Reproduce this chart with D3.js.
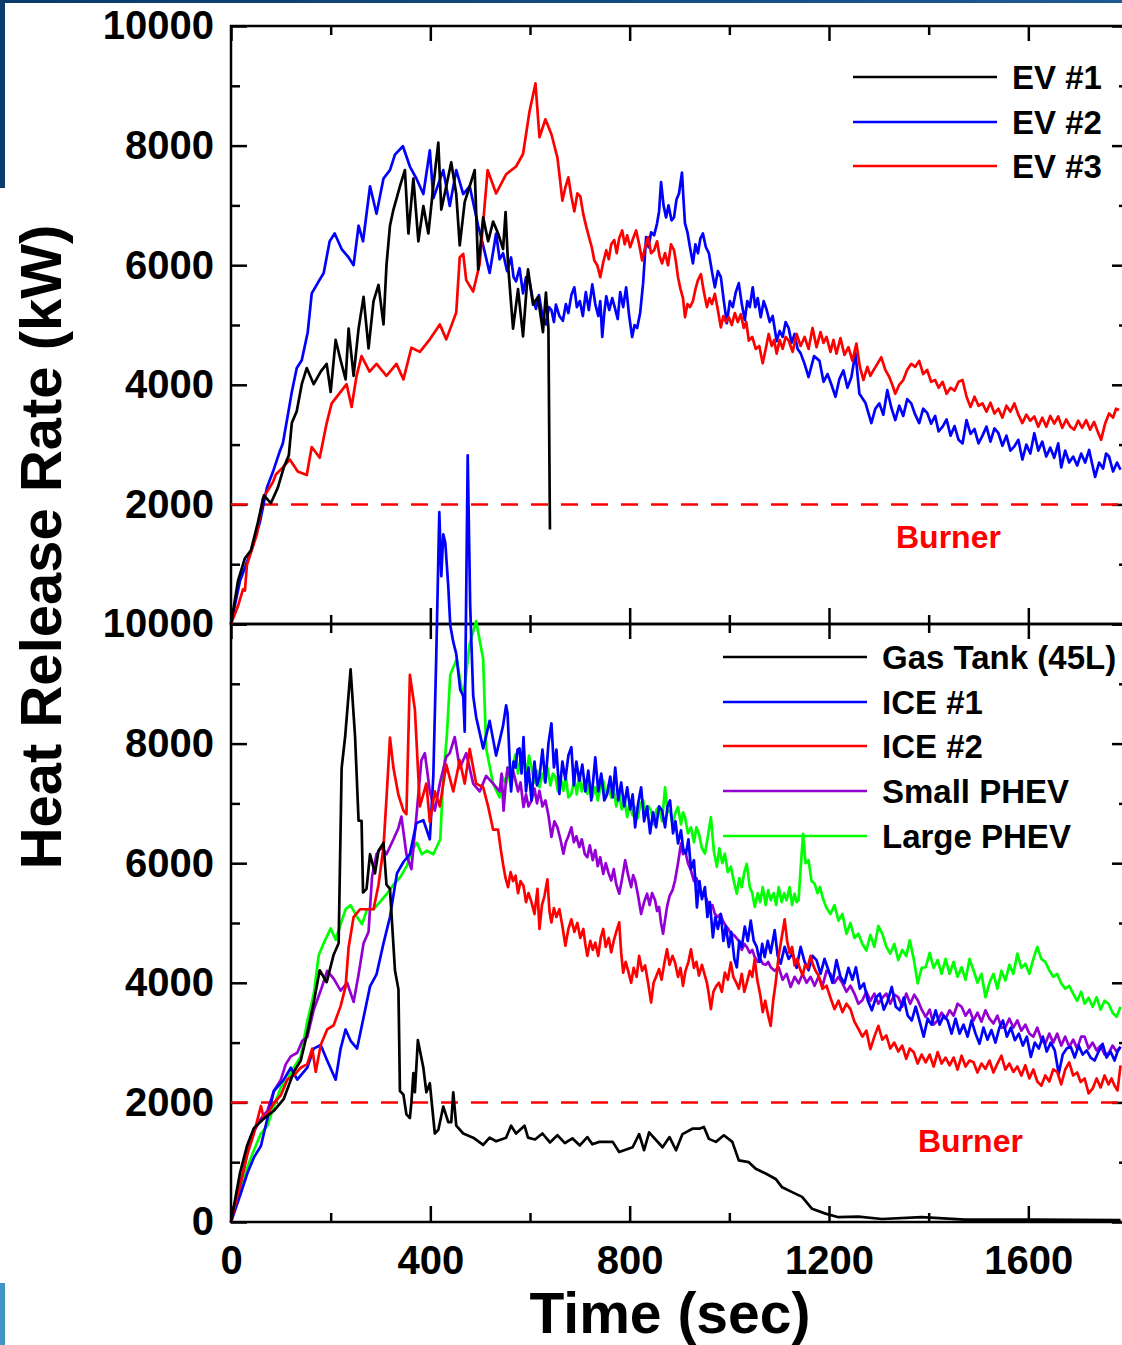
<!DOCTYPE html>
<html><head><meta charset="utf-8">
<script src="https://cdn.jsdelivr.net/npm/d3@7"></script>
<style>
body{margin:0;background:#fff;overflow:hidden}
svg{display:block}
text{font-family:"Liberation Sans",Arial,Helvetica,sans-serif;font-weight:bold}
</style></head>
<body><svg id="chart" width="1122" height="1345"></svg>
<script>
// ---------- DATA ([time s, HRR kW]) ----------
const ev1 = [[0,0],[14,720],[28,1100],[40,1230],[54,1700],[66,2150],[80,2020],[94,2280],[106,2620],[116,2820],[122,3360],[132,3560],[142,4010],[152,4280],[166,4010],[180,4220],[192,4350],[200,3880],[210,4750],[220,4410],[230,4090],[236,4940],[246,4150],[256,4940],[266,5470],[276,4610],[286,5400],[296,5670],[306,5010],[312,6000],[319,6660],[326,6930],[339,7320],[349,7590],[356,6530],[366,7450],[376,6400],[386,6990],[396,6530],[406,7320],[416,8050],[422,6930],[432,7320],[442,7720],[452,7190],[459,6330],[469,7060],[479,7320],[489,7590],[496,5930],[506,6800],[516,6400],[526,6730],[536,6530],[546,6270],[551,6890],[556,6000],[566,4940],[576,5600],[586,4810],[596,5930],[606,5340],[616,5470],[626,4880],[632,5540],[637,4940],[640,1580]];
const ev2 = [[0,0],[18,720],[38,1170],[58,1700],[72,2280],[84,2540],[98,2890],[104,3020],[114,3490],[122,3880],[132,4280],[142,4410],[154,4880],[162,5530],[176,5730],[186,5870],[198,6400],[208,6530],[222,6270],[236,6130],[246,6000],[256,6660],[265,6400],[279,7320],[292,6860],[306,7450],[319,7590],[329,7850],[345,7990],[359,7650],[372,7450],[386,7190],[399,7920],[406,7120],[426,7590],[439,6990],[452,7590],[466,7190],[479,7320],[496,6660],[506,6330],[519,5870],[532,6530],[539,6100],[546,6200],[554,5900],[562,6130],[567,5800],[572,5730],[579,5950],[586,5530],[592,5800],[599,5730],[605,5450],[612,5270],[618,5500],[625,5150],[632,5010],[638,5300],[643,5250],[648,5050],[652,5340],[659,5150],[666,5070],[672,5350],[677,5200],[683,5500],[689,5630],[694,5300],[700,5400],[706,5150],[712,5550],[718,5250],[725,5680],[731,5350],[737,5150],[741,5400],[745,4800],[749,5200],[753,5480],[759,5250],[765,5450],[770,5300],[776,5100],[781,5550],[787,5300],[793,5630],[799,5150],[805,4800],[810,5000],[815,4950],[821,5200],[827,5700],[833,6470],[838,6300],[843,6550],[849,6500],[855,6700],[859,6900],[863,7390],[868,7000],[873,6800],[878,7000],[884,6750],[889,6800],[894,7100],[899,7200],[905,7550],[908,7100],[911,6700],[916,6550],[921,6300],[927,6030],[932,6350],[937,6200],[942,6450],[947,6530],[953,6300],[959,6200],[965,5900],[971,5630],[977,5900],[983,5800],[989,5400],[995,5030],[1001,5400],[1007,5300],[1013,5550],[1019,5700],[1025,5350],[1031,5080],[1036,5400],[1041,5300],[1047,5630],[1052,5300],[1057,5450],[1063,5130],[1069,5400],[1075,5250],[1081,5050],[1087,5150],[1095,4730],[1101,4900],[1107,4800],[1113,5050],[1119,4950],[1125,4700],[1131,4850],[1137,4600],[1143,4530],[1151,4350],[1159,4130],[1170,4480],[1181,4400],[1189,4050],[1197,4180],[1205,4000],[1213,3800],[1221,4100],[1229,4240],[1237,3950],[1245,4130],[1253,4530],[1261,3850],[1273,3700],[1285,3360],[1293,3600],[1301,3690],[1309,3500],[1317,3910],[1325,3620],[1333,3410],[1341,3650],[1349,3480],[1357,3760],[1365,3690],[1373,3500],[1381,3360],[1389,3600],[1397,3530],[1405,3350],[1413,3480],[1420,3220],[1428,3300],[1436,3420],[1444,3150],[1452,3310],[1460,3080],[1468,3020],[1476,3410],[1484,3180],[1492,3260],[1500,3020],[1508,3150],[1516,3300],[1524,3050],[1532,3270],[1540,3190],[1548,2980],[1556,3150],[1564,2900],[1572,2970],[1580,3080],[1588,2750],[1596,3000],[1604,2850],[1612,3190],[1620,2900],[1628,3050],[1636,2800],[1644,2950],[1652,2780],[1660,3020],[1666,2620],[1674,2900],[1682,2700],[1690,2800],[1698,2650],[1706,2850],[1714,2700],[1722,2910],[1728,2680],[1734,2460],[1742,2700],[1750,2600],[1756,2850],[1762,2800],[1770,2550],[1778,2700],[1785,2580]];
const ev3 = [[0,0],[14,300],[24,580],[28,560],[32,990],[52,1500],[64,2100],[84,2370],[90,2500],[104,2620],[118,2750],[134,2550],[152,2490],[162,2960],[178,2780],[192,3360],[202,3690],[218,3860],[232,4010],[242,3630],[252,4150],[262,4480],[278,4220],[292,4350],[312,4150],[332,4350],[346,4090],[362,4620],[379,4550],[399,4760],[419,5010],[432,4760],[452,5210],[459,6130],[466,6190],[472,5750],[486,5560],[499,6020],[515,7590],[532,7200],[552,7520],[572,7650],[586,7860],[599,8570],[611,9040],[619,8140],[631,8440],[643,8190],[655,7800],[660,7450],[665,7080],[671,7300],[677,7470],[683,7150],[689,6900],[695,7200],[701,7150],[707,6850],[713,6640],[719,6450],[724,6300],[729,6080],[735,6000],[741,5800],[747,6050],[753,6250],[758,6100],[763,6350],[769,6420],[774,6200],[779,6450],[785,6580],[790,6350],[795,6500],[801,6300],[807,6450],[813,6580],[819,6350],[825,6080],[831,6300],[837,6470],[843,6200],[849,6250],[855,6400],[860,6150],[865,6030],[871,6200],[877,6000],[883,6350],[889,6250],[893,6050],[897,5800],[902,5600],[907,5450],[911,5130],[916,5350],[921,5300],[927,5400],[932,5600],[937,5750],[943,5850],[949,5550],[955,5300],[960,5450],[965,5350],[971,5520],[977,5250],[983,4960],[988,5150],[993,5050],[999,5130],[1005,5000],[1011,5200],[1017,5050],[1023,5180],[1029,4950],[1034,5050],[1039,4740],[1046,4800],[1053,4600],[1060,4650],[1067,4360],[1073,4600],[1079,4850],[1085,4650],[1090,4750],[1095,4520],[1101,4750],[1107,4600],[1113,4800],[1119,4740],[1127,4550],[1135,4850],[1143,4650],[1151,4800],[1159,4600],[1167,4950],[1175,4630],[1183,4880],[1189,4700],[1195,4800],[1203,4550],[1209,4750],[1215,4520],[1223,4780],[1231,4500],[1239,4630],[1247,4400],[1255,4690],[1262,4300],[1269,4080],[1277,4300],[1283,4150],[1289,4240],[1297,4350],[1305,4460],[1313,4250],[1321,4130],[1327,4000],[1333,3850],[1341,4000],[1349,4080],[1357,4250],[1365,4350],[1373,4300],[1381,4400],[1389,4180],[1397,4250],[1405,4050],[1413,4080],[1420,3950],[1428,4050],[1436,3850],[1444,3950],[1452,3900],[1460,4050],[1468,4080],[1476,3800],[1484,3630],[1492,3800],[1500,3650],[1508,3690],[1516,3550],[1524,3700],[1532,3520],[1540,3600],[1548,3450],[1556,3650],[1564,3550],[1572,3690],[1580,3500],[1588,3360],[1596,3500],[1604,3400],[1612,3470],[1620,3300],[1628,3450],[1636,3300],[1644,3480],[1652,3350],[1660,3470],[1668,3280],[1676,3420],[1684,3300],[1692,3250],[1700,3400],[1708,3280],[1716,3410],[1724,3250],[1732,3380],[1740,3200],[1746,3080],[1754,3350],[1762,3520],[1770,3450],[1776,3600],[1782,3580]];

const gasTank = [[0,0],[18,820],[32,1270],[46,1570],[66,1730],[86,1860],[106,2060],[126,2510],[140,2700],[153,3160],[166,3670],[178,4210],[192,4010],[206,4470],[216,4660],[222,7590],[229,8110],[240,9240],[249,8110],[256,6710],[262,6710],[265,5510],[272,5570],[279,6150],[289,5830],[296,6210],[306,6340],[312,5640],[319,5570],[329,4210],[336,3890],[339,2190],[346,2130],[352,1800],[359,1740],[362,2000],[366,2490],[369,2170],[375,3040],[386,2580],[392,2170],[399,2320],[409,1480],[416,1540],[426,1930],[436,1670],[442,1670],[446,2170],[452,1610],[466,1480],[486,1410],[506,1290],[519,1410],[532,1350],[552,1410],[562,1610],[572,1480],[589,1610],[596,1410],[610,1380],[625,1480],[640,1330],[655,1450],[670,1320],[685,1400],[700,1280],[715,1420],[725,1300],[739,1340],[766,1340],[779,1170],[806,1250],[819,1470],[829,1200],[839,1500],[866,1250],[880,1420],[893,1200],[906,1470],[926,1560],[940,1560],[949,1590],[959,1390],[973,1340],[989,1450],[1006,1340],[1019,1030],[1039,1000],[1053,890],[1073,810],[1093,720],[1106,580],[1126,500],[1146,420],[1166,220],[1193,140],[1219,80],[1259,90],[1306,50],[1386,80],[1473,40],[1606,40],[1785,30]];
const ice1 = [[0,0],[20,490],[33,820],[46,1080],[60,1270],[73,1730],[86,2190],[106,2380],[120,2580],[133,2380],[153,2580],[166,2900],[180,2960],[193,2700],[210,2380],[220,2900],[230,3220],[240,3030],[253,2900],[266,3420],[279,3940],[292,4140],[306,4660],[319,5100],[333,5830],[346,6020],[359,6150],[372,6670],[386,6720],[399,6400],[406,7460],[412,9500],[418,11870],[422,10800],[426,11500],[430,11360],[436,10630],[440,9980],[446,9700],[452,9500],[460,8900],[466,8800],[469,8200],[472,10500],[475,12820],[480,10300],[486,8800],[492,8440],[506,7920],[519,8380],[532,7800],[539,8050],[546,8300],[552,8640],[555,8500],[562,7200],[567,7700],[571,7600],[575,7900],[579,7920],[583,7500],[587,8110],[592,7200],[597,7600],[603,7050],[609,7700],[614,7300],[619,7440],[625,7900],[631,7350],[637,8000],[643,8340],[648,7600],[653,7900],[659,7160],[665,7700],[671,7400],[677,7800],[683,7940],[688,7300],[693,7700],[699,7380],[705,7650],[711,7200],[717,7550],[723,7050],[727,7400],[731,7770],[737,7200],[743,7500],[749,7050],[755,7160],[761,7450],[766,7100],[771,7600],[777,7050],[783,7350],[789,6950],[795,7270],[801,6900],[806,7150],[811,6600],[817,7000],[823,7270],[829,6700],[835,6950],[841,6500],[847,6850],[853,6600],[859,6950],[865,6880],[871,6600],[876,6950],[881,7050],[887,6500],[892,6700],[897,6330],[903,6550],[908,6200],[913,6160],[918,6400],[923,5900],[929,6050],[935,5260],[940,5700],[945,5400],[951,5600],[956,5100],[961,5350],[967,4760],[972,5100],[977,4900],[983,5150],[988,4700],[993,4950],[999,4600],[1004,4850],[1010,4400],[1015,4260],[1020,4700],[1025,4600],[1031,4940],[1037,4700],[1043,5040],[1049,4700],[1055,4600],[1061,4350],[1066,4650],[1071,4430],[1077,4700],[1083,4500],[1091,4880],[1097,4450],[1103,4320],[1111,4600],[1119,4400],[1127,4490],[1135,4250],[1143,4600],[1151,4350],[1159,4210],[1167,4450],[1175,4380],[1183,4150],[1191,4400],[1199,4210],[1207,4000],[1215,4380],[1223,4100],[1231,3990],[1239,4250],[1247,4050],[1254,4260],[1262,3900],[1270,3990],[1278,3700],[1286,3540],[1294,3750],[1302,3820],[1310,3550],[1318,3700],[1326,3930],[1334,3600],[1342,3540],[1350,3750],[1358,3450],[1366,3370],[1374,3600],[1382,3350],[1390,3100],[1398,3400],[1406,3300],[1414,3540],[1422,3300],[1430,3450],[1438,3370],[1446,3150],[1454,3400],[1462,3150],[1470,3300],[1478,3100],[1486,3370],[1494,3150],[1502,2980],[1510,3250],[1518,3050],[1526,3210],[1534,3000],[1542,3250],[1549,3370],[1557,3100],[1565,3250],[1573,3040],[1581,3150],[1589,2950],[1597,3100],[1605,2760],[1613,3000],[1621,2900],[1629,3100],[1637,2850],[1645,3000],[1653,2870],[1661,2480],[1669,2800],[1677,2900],[1685,2930],[1693,2750],[1701,2950],[1709,2800],[1717,2870],[1725,2750],[1733,2700],[1741,2850],[1749,2980],[1757,2750],[1765,2850],[1773,2700],[1779,2850],[1785,2930]];
const ice2 = [[0,0],[20,680],[33,1140],[46,1480],[60,1940],[66,1730],[73,1800],[86,1990],[100,2120],[113,2380],[126,2450],[140,2580],[153,2640],[163,2900],[170,2510],[180,2960],[193,3220],[206,3290],[220,3610],[230,3940],[236,4590],[246,5100],[259,5230],[272,5230],[286,5230],[296,5640],[306,6270],[312,7080],[319,8100],[326,7590],[336,7140],[346,6880],[352,6820],[359,9150],[369,8570],[379,6950],[392,7330],[399,6690],[409,7200],[419,6950],[432,7650],[446,7200],[459,7720],[469,7330],[479,7910],[492,7330],[506,7270],[516,6950],[526,6560],[536,6560],[541,6250],[546,5980],[551,5750],[556,5600],[561,5850],[566,5700],[571,5790],[576,5500],[581,5700],[587,5620],[592,5350],[597,5500],[603,5350],[609,5150],[615,5570],[619,4900],[624,5300],[629,5450],[635,5730],[639,5200],[643,5010],[648,5250],[653,5100],[659,5230],[665,4950],[671,4620],[677,4900],[683,5060],[689,4850],[695,5000],[701,4750],[707,4900],[711,4650],[715,4450],[721,4700],[726,4550],[731,4670],[737,4450],[742,4750],[747,4900],[752,4600],[758,4750],[763,4510],[768,4700],[773,4850],[779,5010],[783,4500],[787,4170],[792,4350],[797,4200],[803,4000],[808,4250],[814,4100],[819,4450],[825,4200],[831,4290],[837,4000],[843,3670],[848,4000],[853,4100],[859,4230],[864,4050],[869,4300],[875,4560],[880,4300],[886,4450],[891,4340],[897,4100],[902,4250],[907,3950],[912,4200],[918,4350],[923,4560],[929,4250],[934,4350],[939,4120],[945,4300],[950,4150],[955,4000],[959,3800],[963,3560],[968,3850],[974,3950],[979,4000],[985,3850],[991,4170],[997,4050],[1003,4340],[1008,4100],[1014,4000],[1019,3900],[1025,4150],[1030,3850],[1035,4000],[1041,4200],[1046,4100],[1051,4400],[1056,4050],[1062,3800],[1067,3510],[1072,3700],[1078,3450],[1083,3280],[1088,3700],[1093,4000],[1099,4450],[1105,4750],[1111,5060],[1116,4700],[1121,4500],[1126,4600],[1131,4290],[1136,4400],[1141,4250],[1147,4120],[1152,4300],[1157,4250],[1163,4450],[1168,4300],[1173,4200],[1179,4120],[1187,3900],[1195,3950],[1203,3750],[1211,3560],[1219,3700],[1227,3510],[1235,3650],[1243,3560],[1251,3350],[1259,3230],[1267,3100],[1275,3200],[1283,2890],[1291,3100],[1299,3280],[1307,3050],[1315,3120],[1323,2900],[1331,3000],[1339,2850],[1347,2950],[1355,2730],[1362,2900],[1370,2840],[1378,2650],[1386,2800],[1394,2670],[1402,2800],[1410,2600],[1418,2840],[1426,2650],[1434,2750],[1442,2620],[1450,2750],[1458,2550],[1466,2780],[1474,2600],[1482,2700],[1490,2670],[1498,2500],[1506,2650],[1514,2560],[1522,2700],[1530,2500],[1538,2650],[1546,2780],[1554,2550],[1562,2650],[1570,2510],[1578,2600],[1586,2450],[1594,2620],[1602,2400],[1610,2550],[1618,2350],[1626,2280],[1634,2450],[1642,2350],[1650,2550],[1658,2510],[1666,2300],[1674,2550],[1682,2670],[1690,2450],[1698,2500],[1705,2340],[1713,2400],[1721,2150],[1729,2230],[1737,2400],[1745,2250],[1753,2450],[1761,2300],[1767,2400],[1773,2280],[1779,2200],[1785,2620]];
const phevSmall = [[0,0],[20,680],[40,1420],[60,1730],[73,1860],[86,2190],[100,2380],[110,2640],[120,2770],[133,2830],[143,3030],[153,3090],[166,3550],[180,3870],[193,4200],[206,4070],[220,3870],[233,4000],[246,3680],[256,4140],[266,4660],[276,4850],[283,5770],[292,6150],[302,6270],[312,6150],[326,6400],[336,6590],[342,6780],[352,6150],[362,5900],[372,6780],[382,7720],[389,7840],[399,7200],[409,6880],[419,7330],[432,7780],[439,7840],[449,8110],[459,7590],[472,7840],[486,7330],[499,7200],[512,7460],[526,7330],[539,7200],[543,7500],[547,6880],[551,7300],[555,7600],[561,7400],[566,7550],[571,7380],[576,7200],[581,7350],[587,6940],[592,7150],[597,6950],[603,7050],[609,7250],[614,7000],[619,7210],[625,6950],[631,7050],[637,6800],[643,6440],[649,6700],[655,6600],[661,6400],[667,6160],[672,6350],[677,6450],[683,6600],[688,6350],[693,6450],[699,6270],[704,6400],[710,6150],[715,6100],[720,6300],[726,6050],[731,6220],[736,5950],[741,6100],[747,5820],[752,6000],[757,5850],[763,5710],[768,5900],[773,5650],[779,5490],[785,5750],[791,6050],[797,5800],[803,5600],[807,5800],[811,5710],[817,5450],[823,5150],[829,5350],[835,5490],[840,5300],[845,5500],[851,5380],[855,5200],[859,5270],[863,5000],[867,4820],[871,5050],[875,5270],[880,5450],[886,5550],[891,5710],[897,6000],[903,6330],[907,6150],[911,6220],[917,6000],[923,5880],[929,5700],[934,5750],[939,5600],[945,5450],[950,5500],[955,5380],[961,5250],[966,5300],[971,5150],[977,5100],[982,5150],[987,5040],[993,4950],[998,4900],[1003,4820],[1009,4800],[1014,4750],[1019,4700],[1025,4550],[1030,4650],[1035,4600],[1041,4500],[1046,4550],[1051,4430],[1057,4350],[1062,4400],[1067,4320],[1073,4300],[1078,4350],[1083,4260],[1091,4200],[1099,4260],[1107,4050],[1115,4150],[1123,3930],[1131,4100],[1139,3990],[1147,4150],[1155,4000],[1163,4100],[1171,3950],[1179,4100],[1187,3950],[1195,4200],[1203,4150],[1211,4000],[1219,4100],[1227,3990],[1235,3850],[1243,3950],[1251,3820],[1259,3650],[1267,3710],[1275,3850],[1283,3700],[1291,3820],[1299,3650],[1307,3750],[1315,3820],[1323,3650],[1331,3800],[1339,3760],[1347,3600],[1355,3820],[1363,3650],[1371,3800],[1378,3710],[1386,3550],[1394,3430],[1402,3550],[1410,3300],[1418,3370],[1426,3500],[1434,3400],[1442,3540],[1450,3450],[1458,3650],[1466,3600],[1474,3450],[1482,3550],[1490,3370],[1498,3500],[1506,3350],[1514,3540],[1522,3400],[1530,3320],[1538,3450],[1546,3250],[1554,3260],[1562,3400],[1570,3250],[1578,3370],[1586,3200],[1594,3300],[1602,3150],[1610,3100],[1618,3250],[1626,3050],[1634,2980],[1642,3150],[1650,3000],[1658,3150],[1666,2950],[1674,3100],[1682,2930],[1690,3050],[1698,2900],[1706,3100],[1713,3100],[1721,2900],[1729,3000],[1737,2870],[1745,2950],[1753,2800],[1761,2820],[1769,2950],[1777,2850],[1785,2930]];
const phevLarge = [[0,0],[20,620],[40,1080],[60,1480],[73,1610],[86,1930],[100,2250],[113,2380],[126,2580],[140,2770],[153,3350],[166,3810],[176,4460],[186,4660],[200,4910],[210,4720],[220,4980],[230,5230],[240,5300],[253,5100],[263,4980],[273,5230],[286,5230],[300,5360],[313,5490],[326,5640],[340,5770],[353,5960],[363,6210],[373,6340],[383,6150],[393,6210],[406,6150],[420,6400],[426,7460],[433,8110],[440,9150],[453,9410],[466,8760],[479,9670],[492,10050],[506,9410],[512,7920],[526,7330],[539,7100],[545,7450],[552,7330],[555,7600],[561,7300],[566,7650],[571,7820],[576,7500],[581,7750],[587,7880],[593,7450],[598,7800],[603,7600],[609,7350],[614,7550],[619,7270],[625,7500],[630,7350],[635,7600],[641,7300],[646,7500],[651,7440],[656,7200],[661,7450],[667,7210],[672,7450],[677,7100],[683,7160],[689,7400],[694,7150],[699,7490],[704,7200],[710,7400],[715,7160],[720,7350],[725,7100],[731,7270],[736,7050],[742,7300],[747,7380],[752,7100],[757,7300],[763,7100],[768,7250],[773,6950],[779,7160],[784,6900],[790,7050],[795,6770],[800,7000],[806,6800],[811,6940],[816,6750],[822,7000],[827,7050],[832,6800],[838,6950],[843,6880],[848,6650],[854,6900],[859,6940],[865,6700],[871,7270],[876,6850],[881,6880],[886,6650],[892,6850],[897,6940],[903,6650],[907,6850],[911,6770],[917,6500],[923,6600],[929,6350],[934,6600],[939,6490],[945,6250],[951,6160],[957,6450],[963,6770],[969,6200],[975,5940],[980,6250],[986,6000],[991,6160],[997,5850],[1003,5940],[1009,5700],[1015,5490],[1020,5750],[1025,5600],[1030,5850],[1035,5990],[1041,5600],[1046,5500],[1051,5270],[1057,5500],[1062,5350],[1067,5600],[1073,5300],[1078,5550],[1083,5380],[1089,5500],[1094,5300],[1099,5600],[1105,5350],[1110,5500],[1115,5380],[1121,5600],[1126,5300],[1131,5490],[1135,5350],[1139,5380],[1143,5900],[1148,6490],[1153,6000],[1159,6050],[1165,5700],[1171,5660],[1177,5500],[1182,5600],[1187,5430],[1195,5250],[1203,5150],[1211,5300],[1219,5040],[1227,5150],[1235,4820],[1243,5000],[1251,4750],[1259,4820],[1267,4650],[1275,4540],[1283,4800],[1291,4600],[1299,4950],[1307,4820],[1315,4600],[1323,4490],[1331,4650],[1339,4380],[1347,4550],[1355,4450],[1362,4710],[1370,4400],[1378,3990],[1386,4250],[1394,4260],[1402,4500],[1410,4250],[1418,4380],[1426,4150],[1434,4400],[1442,4150],[1450,4350],[1458,4100],[1466,4260],[1474,4050],[1482,4400],[1490,4210],[1498,4000],[1506,4150],[1514,3760],[1522,4000],[1530,4150],[1538,3900],[1546,4200],[1554,4040],[1562,4300],[1570,4150],[1578,4490],[1586,4250],[1594,4320],[1602,4150],[1610,4400],[1618,4600],[1626,4400],[1634,4350],[1642,4210],[1650,4100],[1658,4150],[1666,3990],[1674,3900],[1682,3950],[1690,3820],[1698,3700],[1706,3850],[1713,3650],[1721,3750],[1729,3600],[1737,3760],[1745,3550],[1753,3700],[1761,3650],[1769,3500],[1777,3430],[1785,3600]];

const burnerLevel = 2000;
const xMajorTicks = [0,400,800,1200,1600];
const xMinorTicks = [200,600,1000,1400,1800];
const yMajorTicks = [0,2000,4000,6000,8000,10000];
const yMinorTicks = [1000,3000,5000,7000,9000];
const topYLabels = [2000,4000,6000,8000,10000];
const bottomYLabels = [0,2000,4000,6000,8000,10000];
const topNames = ["EV #1","EV #2","EV #3"];
const bottomNames = ["Gas Tank (45L)","ICE #1","ICE #2","Small PHEV","Large PHEV"];

// ---------- LAYOUT ----------
const svg = d3.select("#chart");
const X0 = 231, X1 = 1128;
const TOP0 = 26, MID = 624, BOT = 1222;
const x = d3.scaleLinear().domain([0,1800]).range([X0,X1]);
const yTop = d3.scaleLinear().domain([0,10000]).range([MID,TOP0]);
const yBot = d3.scaleLinear().domain([0,10000]).range([BOT,MID]);
const FONT = '"Liberation Sans",Arial,sans-serif';

// slide decorations
const grad = svg.append("defs").append("linearGradient").attr("id","bar").attr("x1","0").attr("x2","1");
grad.append("stop").attr("offset","0").attr("stop-color","#0a3a6a");
grad.append("stop").attr("offset","1").attr("stop-color","#1d5a92");
svg.append("rect").attr("x",0).attr("y",0).attr("width",1122).attr("height",3).attr("fill","url(#bar)");
svg.append("rect").attr("x",0).attr("y",0).attr("width",5).attr("height",188).attr("fill","#0c3c6c");
svg.append("rect").attr("x",0).attr("y",1283).attr("width",5).attr("height",62).attr("fill","#3e96c3");

function styleTicks(s) {
  s.select(".domain").remove();
  s.selectAll("line").attr("stroke","#000").attr("stroke-width",2.5);
}
function panel(y, labels) {
  const g = svg.append("g");
  g.append("g").attr("transform",`translate(${X0},0)`)
    .call(d3.axisLeft(y).tickValues(yMajorTicks).tickSize(-16).tickFormat(d => labels.includes(d) ? d3.format("d")(d) : ""))
    .call(s => { styleTicks(s);
      s.selectAll("text").attr("x",-17).attr("font-size",40).attr("fill","#000")
        .style("font-family",FONT).style("font-weight","bold"); });
  g.append("g").attr("transform",`translate(${X0},0)`)
    .call(d3.axisLeft(y).tickValues(yMinorTicks).tickSize(-9).tickFormat("")).call(styleTicks);
  g.append("g").attr("transform",`translate(${X1},0)`)
    .call(d3.axisRight(y).tickValues(yMajorTicks).tickSize(-16).tickFormat("")).call(styleTicks);
  g.append("g").attr("transform",`translate(${X1},0)`)
    .call(d3.axisRight(y).tickValues(yMinorTicks).tickSize(-9).tickFormat("")).call(styleTicks);
  const yt = y.range()[1], yb = y.range()[0];
  [[yt, d3.axisTop, -15, -9],[yb, d3.axisBottom, -16, -9]].forEach(([yy, ax, maj, min]) => {
    g.append("g").attr("transform",`translate(0,${yy})`)
      .call(ax(x).tickValues(xMajorTicks).tickSize(maj).tickFormat("")).call(styleTicks);
    g.append("g").attr("transform",`translate(0,${yy})`)
      .call(ax(x).tickValues(xMinorTicks).tickSize(min).tickFormat("")).call(styleTicks);
  });
  g.append("rect").attr("x",X0).attr("y",yt).attr("width",X1-X0).attr("height",yb-yt)
    .attr("fill","none").attr("stroke","#000").attr("stroke-width",2.5);
  g.append("line").attr("x1",X0).attr("x2",X1).attr("y1",y(burnerLevel)).attr("y2",y(burnerLevel))
    .attr("stroke","#ff0000").attr("stroke-width",2.5).attr("stroke-dasharray","17,13");
  return g;
}
panel(yTop, topYLabels);
panel(yBot, bottomYLabels);

// x tick labels
svg.append("g").attr("transform",`translate(0,${BOT})`)
  .call(d3.axisBottom(x).tickValues(xMajorTicks).tickSize(0).tickPadding(0).tickFormat(d3.format("d")))
  .call(s => { s.select(".domain").remove();
    s.selectAll("text").attr("y",52).attr("dy",null).attr("font-size",40).attr("fill","#000")
      .style("font-family",FONT).style("font-weight","bold"); });

// lines
function drawLines(y, series) {
  const line = d3.line().x(d => x(d[0])).y(d => y(d[1]));
  series.forEach(s => svg.append("path").datum(s.data).attr("d",line)
    .attr("fill","none").attr("stroke",s.color).attr("stroke-width",2.7)
    .attr("stroke-linejoin","round"));
}
const topSeries = [
  {name:topNames[0], data:ev1, color:"#000000"},
  {name:topNames[1], data:ev2, color:"#0000ff"},
  {name:topNames[2], data:ev3, color:"#ff0000"}];
const botSeries = [
  {name:bottomNames[0], data:gasTank, color:"#000000"},
  {name:bottomNames[1], data:ice1, color:"#0000ff"},
  {name:bottomNames[2], data:ice2, color:"#ff0000"},
  {name:bottomNames[3], data:phevSmall, color:"#9400d3"},
  {name:bottomNames[4], data:phevLarge, color:"#00ff00"}];
drawLines(yTop, [topSeries[1], topSeries[2], topSeries[0]]);
drawLines(yBot, [botSeries[4], botSeries[3], botSeries[1], botSeries[2], botSeries[0]]);

// legends
function legend(series, lx0, lx1, tx, ys) {
  series.forEach((s,i) => {
    svg.append("line").attr("x1",lx0).attr("x2",lx1).attr("y1",ys[i]).attr("y2",ys[i])
      .attr("stroke",s.color).attr("stroke-width",2.7);
    svg.append("text").attr("x",tx).attr("y",ys[i]+12).attr("font-size",33).attr("fill","#000").text(s.name);
  });
}
legend(topSeries, 853, 997, 1012, [77,122,166]);
legend(botSeries, 723, 867, 882, [657,702,746,791,836]);

// burner labels
svg.append("text").attr("x",896).attr("y",548).attr("font-size",32).attr("fill","#ff0000").text("Burner");
svg.append("text").attr("x",918).attr("y",1152).attr("font-size",32).attr("fill","#ff0000").text("Burner");

// axis titles
svg.append("text").attr("x",670).attr("y",1333).attr("text-anchor","middle").attr("font-size",57).attr("fill","#000").text("Time (sec)");
svg.append("text").attr("transform","translate(61,547) rotate(-90)").attr("text-anchor","middle").attr("font-size",58).attr("fill","#000").text("Heat Release Rate (kW)");
</script></body></html>
